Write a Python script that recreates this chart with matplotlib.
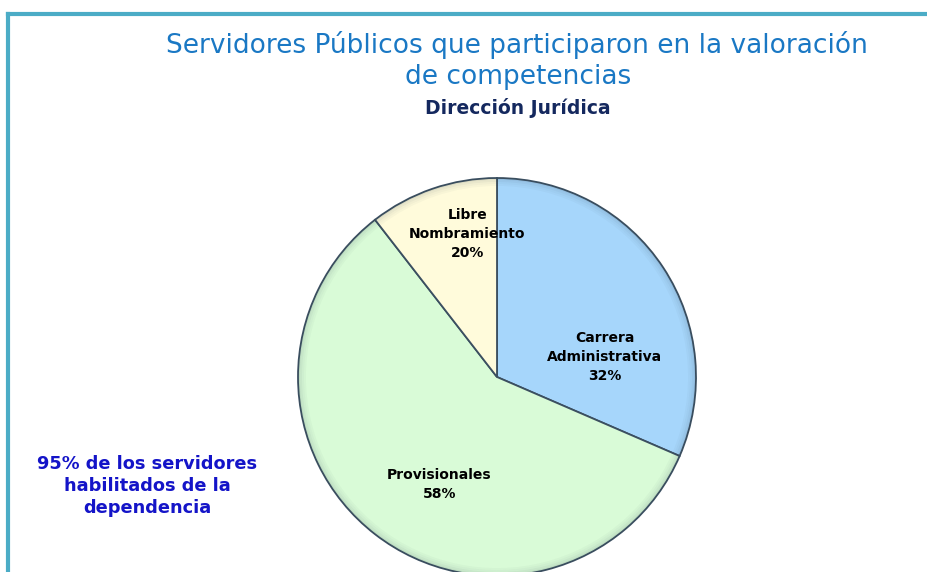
"""Pie chart of servidores públicos by type of appointment."""

import matplotlib.pyplot as plt
from matplotlib.lines import Line2D
from matplotlib.patches import Wedge

categories = ["Carrera\nAdministrativa", "Provisionales", "Libre\nNombramiento"]
shares = [31.5, 58.0, 10.5]
pct_labels = ["32%", "58%", "20%"]
colors = ["#a6d6fb", "#d9fbd7", "#fffbdb"]
label_pos = [(0.54, 0.10), (-0.29, -0.54), (-0.15, 0.72)]

W, H = 928, 572
fig = plt.figure(figsize=(W / 100, H / 100), dpi=100)
fig.patch.set_facecolor("white")

# frame lines (top and left)
fig.add_artist(Line2D([8 / W, 1], [1 - 14 / H, 1 - 14 / H], color="#4bacc6", lw=3))
fig.add_artist(Line2D([8 / W, 8 / W], [0, 1 - 14 / H], color="#4bacc6", lw=3))

cx, cy, r = 497, 377, 199
ax = fig.add_axes([(cx - r) / W, (H - cy - r) / H, 2 * r / W, 2 * r / H])

wedges, _ = ax.pie(
    shares,
    colors=colors,
    startangle=90,
    counterclock=False,
    radius=1,
    wedgeprops={"edgecolor": "#3b4f60", "linewidth": 1.3},
)
ax.set_xlim(-1, 1)
ax.set_ylim(-1, 1)
ax.axis("off")

# soft inner shading along the rim
for w in wedges:
    for k, a in enumerate([0.16, 0.10, 0.06, 0.03]):
        ring = Wedge((0, 0), 1 - 0.01 * k, w.theta1, w.theta2, width=0.01,
                     facecolor="#2c3e50", alpha=a, edgecolor="none")
        ax.add_patch(ring)

for name, pct, (x, y) in zip(categories, pct_labels, label_pos):
    ax.text(x, y, f"{name}\n{pct}", ha="center", va="center", fontsize=10,
            fontweight="bold", color="black", linespacing=1.45)

title_kw = dict(ha="center", va="center", fontsize=19, color="#1a78c4")
fig.text(517 / W, 1 - 45 / H, "Servidores Públicos que participaron en la valoración", **title_kw)
fig.text(518 / W, 1 - 77 / H, "de competencias", **title_kw)
fig.text(518 / W, 1 - 108 / H, "Dirección Jurídica", ha="center", va="center",
         fontsize=13.5, fontweight="bold", color="#14285e")
fig.text(147 / W, 1 - 486 / H, "95% de los servidores\nhabilitados de la\ndependencia",
         ha="center", va="center", fontsize=12.8, fontweight="bold", color="#1414c8",
         linespacing=1.3)

fig.savefig("out.png", dpi=100)
